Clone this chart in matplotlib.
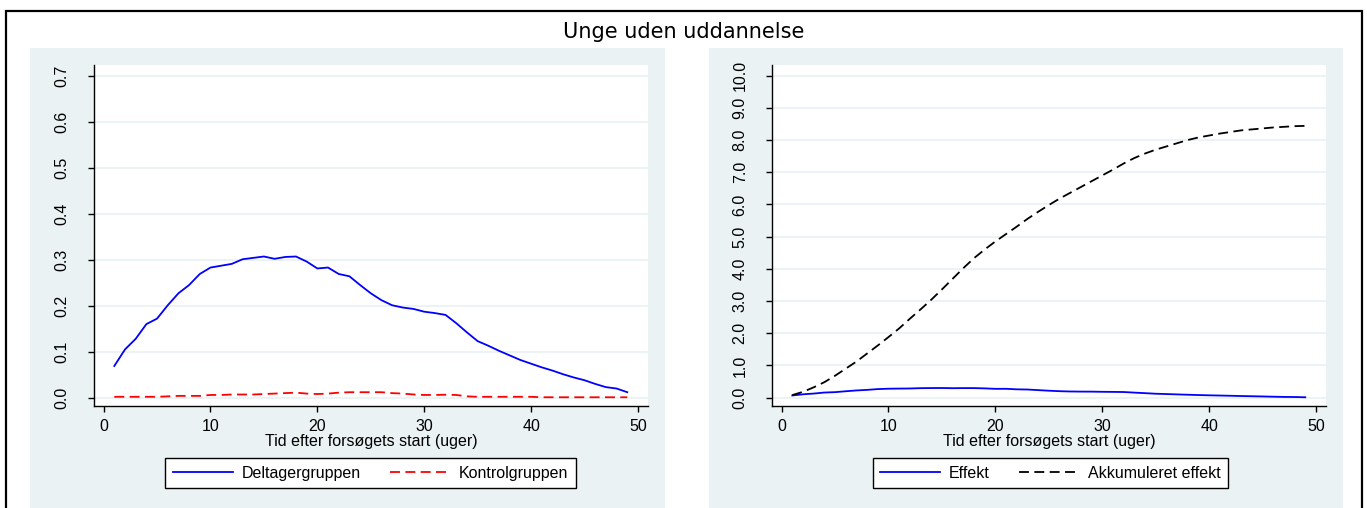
import matplotlib
matplotlib.use("Agg")
import matplotlib.pyplot as plt
from matplotlib.patches import Rectangle

# ---------------- data ----------------
weeks = list(range(1, 50))

deltager = [0.069, 0.105, 0.128, 0.160, 0.172, 0.201, 0.227, 0.245, 0.269, 0.283,
            0.287, 0.291, 0.301, 0.304, 0.307, 0.302, 0.306, 0.307, 0.296, 0.281,
            0.283, 0.269, 0.264, 0.245, 0.227, 0.212, 0.201, 0.196, 0.193, 0.187,
            0.184, 0.180, 0.162, 0.142, 0.123, 0.113, 0.102, 0.092, 0.082, 0.074,
            0.066, 0.059, 0.051, 0.044, 0.038, 0.030, 0.023, 0.020, 0.012]

kontrol = [0.002, 0.002, 0.002, 0.002, 0.002, 0.003, 0.004, 0.004, 0.004, 0.006,
           0.006, 0.007, 0.007, 0.007, 0.008, 0.009, 0.010, 0.011, 0.009, 0.008,
           0.009, 0.011, 0.012, 0.012, 0.012, 0.012, 0.010, 0.009, 0.007, 0.006,
           0.006, 0.0065, 0.006, 0.003, 0.002, 0.002, 0.002, 0.002, 0.002, 0.002,
           0.001, 0.001, 0.001, 0.001, 0.001, 0.001, 0.001, 0.001, 0.001]

effekt = [0.067, 0.103, 0.126, 0.158, 0.170, 0.198, 0.223, 0.241, 0.265, 0.277,
          0.281, 0.284, 0.294, 0.297, 0.299, 0.293, 0.296, 0.296, 0.287, 0.273,
          0.274, 0.258, 0.252, 0.233, 0.215, 0.200, 0.191, 0.187, 0.186, 0.181,
          0.178, 0.174, 0.156, 0.139, 0.121, 0.111, 0.100, 0.090, 0.080, 0.072,
          0.065, 0.058, 0.050, 0.043, 0.037, 0.029, 0.022, 0.019, 0.011]

akkumuleret = [0.08, 0.18, 0.32, 0.48, 0.68, 0.90, 1.12, 1.37, 1.62, 1.88,
               2.15, 2.45, 2.74, 3.04, 3.36, 3.69, 4.02, 4.33, 4.60, 4.85,
               5.08, 5.31, 5.55, 5.77, 5.98, 6.18, 6.36, 6.54, 6.72, 6.90,
               7.08, 7.27, 7.44, 7.58, 7.70, 7.80, 7.90, 8.00, 8.08, 8.14,
               8.20, 8.25, 8.30, 8.33, 8.36, 8.39, 8.41, 8.43, 8.44]

x_ticks = [0, 10, 20, 30, 40, 50]
left_yticks = [0.0, 0.1, 0.2, 0.3, 0.4, 0.5, 0.6, 0.7]
left_ylabels = ["0.0", "0.1", "0.2", "0.3", "0.4", "0.5", "0.6", "0.7"]
right_yticks = [0, 1, 2, 3, 4, 5, 6, 7, 8, 9, 10]
right_ylabels = ["0.0", "1.0", "2.0", "3.0", "4.0", "5.0", "6.0", "7.0", "8.0", "9.0", "10.0"]

title = "Unge uden uddannelse"
xlabel = "Tid efter forsøgets start (uger)"

# ---------------- layout ----------------
W, H = 1367, 508
fig = plt.figure(figsize=(W / 100, H / 100), dpi=100)
fig.patch.set_facecolor("white")


def fx(px):
    return px / W


def fy(py):
    return 1 - py / H


BG = "#EAF2F3"
FONT = "Liberation Sans"
FS = 11.5

# outer frame
fig.add_artist(Rectangle((fx(6), fy(530)), fx(1362) - fx(6), fy(11) - fy(530),
                         transform=fig.transFigure, fill=False,
                         edgecolor="black", lw=1.6, zorder=-2))
# panel backgrounds
for (x0, x1) in [(30, 665), (709, 1343)]:
    fig.add_artist(Rectangle((fx(x0), fy(530)), fx(x1) - fx(x0), fy(48) - fy(530),
                             transform=fig.transFigure, facecolor=BG,
                             edgecolor="none", zorder=-1))

fig.text(fx(683.5), fy(32), title, ha="center", va="center",
         fontsize=15, family="DejaVu Sans", color="black")


def setup_axes(left_px, ylim, yticks, ylabels):
    ax = fig.add_axes([fx(left_px), fy(406), fx(left_px + 554) - fx(left_px), fy(65) - fy(406)])
    ax.set_zorder(1)
    ax.set_facecolor("white")
    for s in ["top", "right"]:
        ax.spines[s].set_visible(False)
    for s in ["left", "bottom"]:
        ax.spines[s].set_color("black")
        ax.spines[s].set_linewidth(1.0)
    ax.set_xlim(-0.9, 50.94)
    ax.set_ylim(*ylim)
    ax.set_xticks(x_ticks)
    ax.set_xticklabels([str(t) for t in x_ticks], family=FONT, fontsize=FS)
    ax.set_yticks(yticks)
    ax.set_yticklabels(ylabels, family=FONT, fontsize=FS, rotation=90, va="center")
    ax.tick_params(axis="both", direction="out", length=4.5, width=1.0, color="black")
    ax.tick_params(axis="x", pad=5)
    ax.tick_params(axis="y", pad=13)
    ax.yaxis.grid(True, color=BG, lw=1.3)
    ax.set_axisbelow(True)
    ax.set_xlabel(xlabel, family=FONT, fontsize=FS, labelpad=0)
    return ax


DASH = (0, (5.5, 3))

ax1 = setup_axes(94, (-0.018, 0.7233), left_yticks, left_ylabels)
l1, = ax1.plot(weeks, deltager, color="#0000FF", lw=1.3, label="Deltagergruppen")
l2, = ax1.plot(weeks, kontrol, color="#FF0000", lw=1.3, linestyle=DASH,
               label="Kontrolgruppen")

ax2 = setup_axes(772, (-0.26, 10.33), right_yticks, right_ylabels)
l3, = ax2.plot(weeks, effekt, color="#0000FF", lw=1.3, label="Effekt")
l4, = ax2.plot(weeks, akkumuleret, color="black", lw=1.3, linestyle=DASH,
               label="Akkumuleret effekt")


def add_legend(ax, handles, center_px):
    leg = ax.legend(handles=handles, loc="upper center",
                    bbox_to_anchor=(fx(center_px), fy(458)),
                    bbox_transform=fig.transFigure, ncol=2, frameon=True,
                    fancybox=False, edgecolor="black", framealpha=1,
                    handlelength=3.75, handletextpad=0.55, columnspacing=1.85,
                    borderpad=0.47, borderaxespad=0,
                    prop={"family": FONT, "size": FS})
    leg.get_frame().set_linewidth(1.0)
    return leg


add_legend(ax1, [l1, l2], 370.5)
add_legend(ax2, [l3, l4], 1050.5)

fig.savefig("out.png", dpi=100, facecolor="white")
